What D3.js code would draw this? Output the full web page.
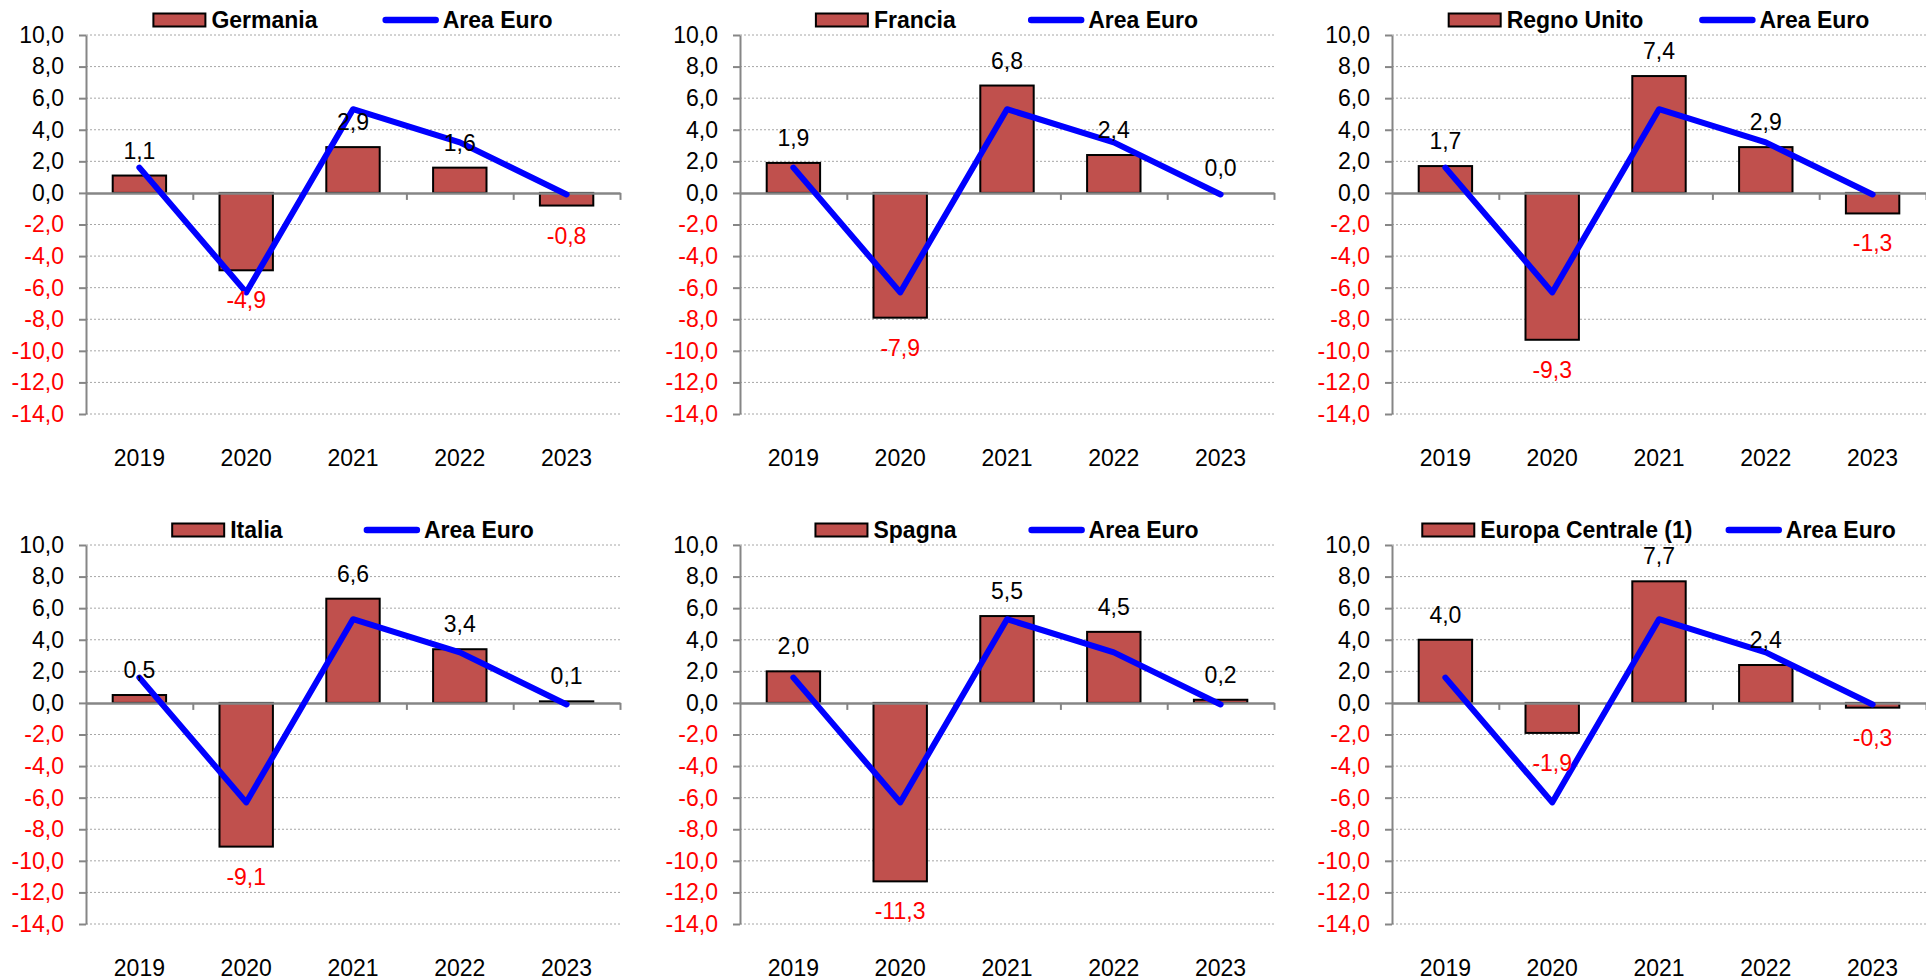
<!DOCTYPE html>
<html>
<head>
<meta charset="utf-8">
<script src="https://cdn.jsdelivr.net/npm/d3@7"></script>
<style>
  html, body { margin: 0; padding: 0; background: #fff; }
  svg { display: block; font-family: "Liberation Sans", Arial, sans-serif; }
</style>
</head>
<body>
<svg id="chart" width="1926" height="980"></svg>
<script>
// ---- Data ----
const years = ["2019", "2020", "2021", "2022", "2023"];
const countries = ["Germania", "Francia", "Regno Unito", "Italia", "Spagna", "Europa Centrale (1)"];
const germania = [1.1, -4.9, 2.9, 1.6, -0.8];
const francia = [1.9, -7.9, 6.8, 2.4, 0.0];
const regnoUnito = [1.7, -9.3, 7.4, 2.9, -1.3];
const italia = [0.5, -9.1, 6.6, 3.4, 0.1];
const spagna = [2.0, -11.3, 5.5, 4.5, 0.2];
const europaCentrale = [4.0, -1.9, 7.7, 2.4, -0.3];
const areaEuro = [1.6, -6.3, 5.3, 3.2, -0.1];
const lineLabel = "Area Euro";
const yTicks = [10, 8, 6, 4, 2, 0, -2, -4, -6, -8, -10, -12, -14];

const seriesList = [germania, francia, regnoUnito, italia, spagna, europaCentrale];

// ---- Layout ----
const colX = [86, 740, 1392];
const rowTop = [35, 545];
const plotW = 534, plotH = 379;
const FONT = 23;
const barColor = "#C0504D";
const lineColor = "#0000FF";
const axisColor = "#868686";

const locale = d3.formatLocale({decimal: ",", thousands: ".", grouping: [3], currency: ["", "€"], minus: "-"});
const fmt = locale.format(".1f");

const svg = d3.select("#chart");

seriesList.forEach((vals, i) => {
  const x0 = colX[i % 3];
  const y0 = rowTop[Math.floor(i / 3)];
  const g = svg.append("g").attr("transform", `translate(${x0},${y0})`);

  const x = d3.scaleBand().domain(years).range([0, plotW]).paddingInner(0).paddingOuter(0);
  const xb = d3.scaleLinear().domain([0, years.length]).range([0, plotW]);
  const y = d3.scaleLinear().domain([-14, 10]).range([plotH, 0]);

  // gridlines
  g.append("g").selectAll("line").data(yTicks.filter(t => t !== 0)).join("line")
    .attr("x1", 0).attr("x2", plotW)
    .attr("y1", d => y(d)).attr("y2", d => y(d))
    .attr("stroke", "#a6a6a6").attr("stroke-width", 1)
    .attr("stroke-dasharray", "2,2");

  // y axis
  const ya = g.append("g").call(
    d3.axisLeft(y).tickValues(yTicks).tickSize(7).tickSizeOuter(0).tickPadding(15).tickFormat(fmt)
  );
  ya.select(".domain").attr("stroke", axisColor).attr("stroke-width", 2);
  ya.selectAll(".tick line").attr("stroke", axisColor).attr("stroke-width", 2);
  ya.selectAll(".tick text")
    .attr("font-size", FONT).attr("font-family", "Liberation Sans, Arial, sans-serif")
    .attr("fill", d => d < 0 ? "#FF0000" : "#000");

  // bars
  const bw = x.bandwidth() * 0.5;
  g.append("g").selectAll("rect").data(vals).join("rect")
    .attr("x", (d, j) => x(years[j]) + (x.bandwidth() - bw) / 2)
    .attr("width", bw)
    .attr("y", d => y(Math.max(0, d)))
    .attr("height", d => Math.abs(y(d) - y(0)))
    .attr("fill", barColor)
    .attr("stroke", "#000").attr("stroke-width", 2);

  // x axis (zero line with ticks at category boundaries)
  const xa = g.append("g").attr("transform", `translate(0,${y(0)})`).call(
    d3.axisBottom(xb).tickValues(d3.range(1, years.length + 1)).tickSize(7).tickSizeOuter(0).tickFormat("")
  );
  xa.select(".domain").attr("stroke", axisColor).attr("stroke-width", 2.5);
  xa.selectAll(".tick line").attr("stroke", axisColor).attr("stroke-width", 2);

  // year labels
  g.append("g").selectAll("text").data(years).join("text")
    .attr("x", d => x(d) + x.bandwidth() / 2)
    .attr("y", plotH + 52)
    .attr("text-anchor", "middle")
    .attr("font-size", FONT)
    .attr("fill", "#000")
    .text(d => d);

  // Area Euro line
  const line = d3.line()
    .x((d, j) => x(years[j]) + x.bandwidth() / 2)
    .y(d => y(d));
  g.append("path").datum(areaEuro)
    .attr("d", line)
    .attr("fill", "none")
    .attr("stroke", lineColor)
    .attr("stroke-width", 6)
    .attr("stroke-linejoin", "round")
    .attr("stroke-linecap", "round");

  // data labels
  g.append("g").selectAll("text").data(vals).join("text")
    .attr("x", (d, j) => x(years[j]) + x.bandwidth() / 2)
    .attr("y", d => d < 0 ? y(d) + 38 : y(d) - 17)
    .attr("text-anchor", "middle")
    .attr("font-size", FONT)
    .attr("fill", d => d < 0 ? "#FF0000" : "#000")
    .text(d => fmt(d));

  // legend
  const lg = g.append("g").attr("transform", `translate(0,${-15})`);
  const swW = 52, swH = 13, lnW = 56;
  const sw = lg.append("rect").attr("y", -swH / 2).attr("width", swW).attr("height", swH)
    .attr("fill", barColor).attr("stroke", "#000").attr("stroke-width", 2);
  const t1 = lg.append("text").attr("y", 8).attr("font-size", FONT).attr("font-weight", "bold")
    .attr("fill", "#000").text(countries[i]);
  const w1 = t1.node().getComputedTextLength();
  const gap = 97 - 0.3 * w1;
  const ln = lg.append("line").attr("y1", 0).attr("y2", 0)
    .attr("stroke", lineColor).attr("stroke-width", 6.5).attr("stroke-linecap", "round");
  const t2 = lg.append("text").attr("y", 8).attr("font-size", FONT).attr("font-weight", "bold")
    .attr("fill", "#000").text(lineLabel);
  const w2 = t2.node().getComputedTextLength();
  const total = swW + 6 + w1 + gap + lnW + 4 + w2;
  const start = plotW / 2 - total / 2;
  sw.attr("x", start);
  t1.attr("x", start + swW + 6);
  const lx = start + swW + 6 + w1 + gap;
  ln.attr("x1", lx + 3).attr("x2", lx + lnW - 3);
  t2.attr("x", lx + lnW + 4);
});
</script>
</body>
</html>
